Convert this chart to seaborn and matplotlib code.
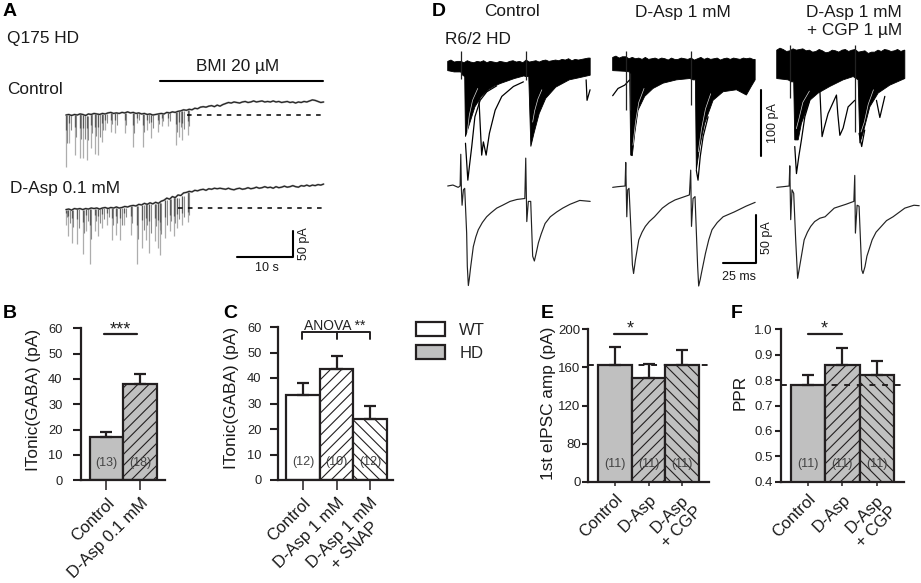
import numpy as np
import pandas as pd
import matplotlib
matplotlib.use("Agg")
import matplotlib.pyplot as plt
from matplotlib.patches import Patch
from matplotlib.transforms import ScaledTranslation, blended_transform_factory
import seaborn as sns

sns.set_style("white")
plt.rcParams['font.family'] = ['Liberation Sans', 'DejaVu Sans']
plt.rcParams['hatch.linewidth'] = 0.8

W, H = 921, 583
INK = '#231f20'
GREY = '#c0c0c0'
fig = plt.figure(figsize=(W / 100, H / 100), dpi=100)

# ---------- bar data ----------
b_cats = ['Control', 'D-Asp 0.1 mM']
b_vals = [17, 38]
b_errs = [2, 4]
b_ns = ['(13)', '(18)']
c_cats = ['Control', 'D-Asp 1 mM', 'D-Asp 1 mM\n+ SNAP']
c_vals = [33.5, 43.5, 23.8]
c_errs = [4.5, 5, 5.2]
c_ns = ['(12)', '(10)', '(12)']
e_cats = ['Control', 'D-Asp', 'D-Asp\n+ CGP']
e_vals = [163, 149, 162]
e_errs = [18, 15, 16]
e_ns = ['(11)', '(11)', '(11)']
f_vals = [0.78, 0.86, 0.82]
f_errs = [0.04, 0.065, 0.055]
f_ns = ['(11)', '(11)', '(11)']

# ---------- panel A traces: seconds (0.5 s sampling) and pA ----------
a_ctrl_base = [0, 1, -1, 1, 0, 2, 1, -1, 2, 1, 3, 2, 1, 3, 2, 4, 5, 3, 4, 3, 5, 4, 6, 4,
               5, 3, 4, 2, 3, 1, 2, 0, 1, 2, 3, 2, 5, 4, 6, 5, 7, 8, 10, 9, 11, 10, 13, 12,
               15, 16, 15, 17, 18, 16, 19, 17, 20, 22, 24, 23, 25, 24, 23, 25, 26, 24, 25, 27,
               25, 26, 27, 25, 26, 25, 27, 25, 26, 24, 25, 26, 24, 25, 23, 25, 24, 26, 25, 27,
               29, 28, 26, 24, 25]
a_asp_base = [-3, -2, -4, -1, -2, -1, -3, -1, -2, 0, -1, 0, -2, 0, 1, -1, 1, 0, 2, 0, 1, 3, 2, 4,
              5, 4, 7, 6, 9, 7, 10, 8, 11, 9, 13, 15, 19, 17, 22, 20, 25, 24, 29, 30, 32, 31, 34, 33,
              35, 36, 34, 37, 36, 38, 37, 38, 37, 36, 38, 36, 35, 37, 38, 36, 37, 39, 37, 38, 40, 38,
              39, 41, 39, 40, 38, 41, 39, 40, 42, 40, 41, 43, 41, 40, 43, 42, 44, 42, 44, 43, 45, 44, 46]
a_ctrl_t = [0.0, 0.6, 1.6, 2.5, 3.1, 3.7, 4.4, 5.1, 5.8, 6.4, 7.0, 8.0, 8.8, 10.5, 11.9, 12.7,
            13.7, 14.5, 15.2, 16.4, 17.1, 18.3, 19.6, 20.2, 20.8, 21.7]
a_ctrl_amp = [99, 54, 77, 83, 83, 86, 64, 74, 77, 51, 29, 32, 35, 35, 62, 16,
              61, 29, 45, 32, 22, 22, 58, 42, 48, 38]
a_asp_t = [0.0, 0.4, 1.0, 2.0, 3.0, 3.6, 4.3, 5.1, 5.8, 6.5, 7.4, 8.2, 8.9, 9.7, 10.4, 11.6,
           12.6, 13.6, 14.3, 14.9, 15.9, 16.5, 16.8, 17.7, 18.5, 19.2, 19.9, 20.8, 21.8]
a_asp_amp = [32, 54, 67, 70, 88, 45, 107, 45, 54, 38, 32, 61, 51, 61, 32, 51,
             107, 77, 61, 86, 64, 77, 90, 58, 45, 54, 38, 32, 26]
a_sample_step = 0.5
a_asp_offset = -178.6

# ---------- panel D sweeps: ms and pA ----------
d_upper_step = 2.5
d1_upper = [7, 9, 6, 7, 7, 5, 8, 6, 5, 7, 6, 8, 5, 7, 6, 5, 7, 6, 5, 7, 8, 6, 7, 5, 9, 6, 7, 8, 6, 8, 9, 7, 8, 9, 8, 10, 9, 11, 8, 10, 9, 10, 11, 12, 11]
d2_upper = [13, 15, 12, 14, 14, 11, 13, 11, 12, 10, 13, 10, 11, 12, 10, 12, 11, 9, 12, 10, 10, 12, 11, 10, 12, 9, 11, 13, 10, 12, 10, 11, 12, 9, 11, 12, 10, 12, 11, 10, 12, 11, 12, 10, 11]
d3_upper = [24, 27, 25, 22, 23, 26, 24, 25, 26, 23, 24, 21, 22, 25, 23, 20, 21, 24, 23, 21, 24, 25, 22, 24, 25, 21, 22, 23, 19, 21, 21, 24, 22, 25, 24, 22, 23, 25, 22, 24, 25, 23, 24, 22, 23]
d1_low_t = [0, 5, 10, 11.5, 13, 13.6, 16, 20.8, 25.8, 30.9, 36, 41, 51, 58.4, 59.5, 62, 63.6, 66, 70, 75, 82.7, 93, 100, 109]
d1_low = [-7, -9, -9, -14, -16, -107, -92, -62, -46, -36, -30, -26, -19, -15, -16, -16, -122, -102, -72, -49, -32, -21, -18, -14]
d2_low_t = [0, 9.2, 13, 13.8, 15, 16.9, 19.4, 24.5, 30.9, 38.6, 48.8, 59, 61.5, 63.3, 64, 66.6, 70.4, 76.8, 84.5, 94.7, 102.3, 106, 109]
d2_low = [-7, -8, -9, -135, -136, -102, -67, -46, -34, -26, -21, -19, -21, -21, -158, -122, -87, -52, -39, -36, -44, -31, -21]
d3_low_t = [0, 8.7, 11.3, 13, 13.8, 16.4, 18.9, 25.3, 31.7, 40.6, 50.8, 58.5, 62.3, 63.6, 66, 71.2, 77.6, 86.5, 98]
d3_low = [-19, -21, -24, -24, -112, -112, -87, -52, -41, -31, -21, -16, -21, -117, -102, -62, -41, -29, -19]

d1_out = [([13.6, 15.4, 16.6, 18.4, 20.8, 24.8, 29.9, 37.5], [-117, -173, -152, -122, -77, -52, -39, -30]),
          ([23.8, 24.8, 26, 27.3, 29.4, 31.9, 36.3, 41.4, 50.3, 57.9], [-46, -87, -135, -115, -135, -102, -67, -46, -31, -24]),
          ([105.9, 106.6, 108.9], [-21, -52, -36])]
d2_out = [([0, 4.1, 9.2, 13], [-45, -34, -29, -21]),
          ([64, 65.3, 67, 69.2, 73], [-158, -173, -137, -107, -77])]
d3_out = [([13.8, 15.1, 16.9, 18.9, 21.5, 25.3], [-122, -163, -137, -112, -77, -52]),
          ([33, 33.7, 34.7, 36.3, 39.3, 45.7, 46.7, 48.3, 50.8, 54.6, 59.7], [-36, -67, -107, -94, -72, -44, -72, -105, -94, -62, -52]),
          ([76.3, 78.9, 82.7], [-52, -78, -46]),
          ([63, 65, 67.3], [-102, -122, -97])]
d1_gap = [([15, 16.5, 19, 23], [-100, -75, -52, -34]), ([65, 66.5, 69, 72], [-85, -68, -50, -36])]
d2_gap = [([15.5, 17.5, 20, 24], [-120, -85, -55, -34]), ([65.5, 68, 71, 75], [-130, -95, -65, -42])]
d3_gap = [([15, 17, 20, 25], [-95, -80, -55, -38]), ([64.5, 67, 70, 74], [-100, -85, -58, -36])]
d1_art = [(10, 22, -19), (60, 22, -21)]
d2_art = [(10, 22, -67), (13.5, -10, -67), (59.7, 22, -59)]
d3_art = [(10, 32, -49), (60, 32, -100)]

d1_avg_t = [0, 4, 8, 9.5, 10, 10.5, 11, 12, 13, 14.5, 15, 15.8, 16.5, 17.5, 19.6, 21.5, 23.4, 26.5, 29.8, 33, 37.5, 42, 47.7, 53, 59, 59.7, 60.5, 61.7, 63.5, 65, 66.3, 67.5, 69.4, 71.5, 74.5, 78.5, 83.4, 88, 93.6, 101, 109]
d1_avg = [0, 1, -1.4, 0, 33, -4, -20, -4, -2.4, -49, -83.5, -103.5, -97, -85, -63, -53, -45.5, -38, -32, -28, -23, -20, -16, -14, -13, 29, -37, -16, -16, -73, -78, -71, -59, -50, -39, -32, -27, -23, -19, -15, -16]
d2_avg_t = [0, 4, 9.5, 10, 10.8, 11.5, 12.5, 14.1, 15.1, 16, 17.4, 20, 22.5, 25, 28, 32, 38, 43, 47.7, 53, 58.7, 59.7, 60.3, 61.5, 63, 65, 65.8, 67, 68, 71, 73.5, 76, 80, 84.5, 93, 102, 109]
d2_avg = [-1.4, -0.7, 0, 24.5, -32, -4, -2.4, -49, -82, -91, -77, -56, -48, -42, -37, -32, -23, -18, -14.5, -12, -9.3, 16.5, -42, -13, -11, -83.5, -104, -97, -90, -70, -56, -45.5, -38, -32, -27, -21, -17]
d3_avg_t = [0, 5, 9.5, 10, 10.7, 11.7, 13, 14.5, 16, 18, 21, 23.5, 26, 29, 33, 37, 44, 53, 59, 59.7, 60.2, 61.5, 63, 65, 66, 67.5, 69, 73, 76, 80, 84, 89, 98, 105, 109]
d3_avg = [-1.4, -0.7, 0, 21, -35, -4, -7.6, -56, -96, -80, -56, -48, -42, -37, -33.5, -32, -23, -19, -16, 11, -49, -20, -21, -87, -91, -84, -73, -56, -48, -42, -36, -32, -23, -20, -20.5]
d_offsets = [0, 126.2, 251.7]


def px_axes(l, t, r, b):
    ax = fig.add_axes([l / W, 1 - b / H, (r - l) / W, (b - t) / H])
    ax.patch.set_alpha(0)
    return ax


def T(x, y, s, size=12.4, **kw):
    kw.setdefault('ha', 'left')
    kw.setdefault('va', 'center')
    kw.setdefault('color', '#1a1a1a')
    fig.text(x / W, 1 - y / H, s, fontsize=size, **kw)


def line(ax, x, y, color='black', lw=1.0, **kw):
    sns.lineplot(x=np.asarray(x, float), y=np.asarray(y, float), ax=ax, color=color, lw=lw,
                 estimator=None, sort=False, errorbar=None, legend=False, **kw)


# ---------- panel A ----------
axA = px_axes(60, 70, 335, 290)
axA.set_xlim((60 - 66) / 5.6, (335 - 66) / 5.6)
axA.set_ylim((115 - 290) * 1.92, (115 - 70) * 1.92)
axA.axis('off')
ta = np.arange(len(a_ctrl_base)) * a_sample_step
for base, st, amp, off in [(a_ctrl_base, a_ctrl_t, a_ctrl_amp, 0),
                           (a_asp_base, a_asp_t, a_asp_amp, a_asp_offset)]:
    base = np.asarray(base, float)
    st = np.asarray(st)
    amp = np.asarray(amp, float)
    tops = base[(st / a_sample_step).astype(int)] + off
    axA.vlines(st, tops, off - amp, color='#adadad', lw=0.9)
    axA.vlines(st + 0.25, tops, off - amp * 0.55, color='#8a8a8a', lw=0.8)
    axA.vlines(st, tops, off - amp * 0.3, color='#5a5a5a', lw=0.9)
    line(axA, ta, base + off, color='#9a9a9a', lw=1.4)
    line(axA, ta, base + off, color='#222222', lw=0.8)
axA.plot([21.6, 45.7], [0, 0], color='black', lw=1.1, ls=(0, (3, 3.5)))
axA.plot([20, 45.7], [a_asp_offset, a_asp_offset], color='black', lw=1.1, ls=(0, (3, 3.5)))
axA.plot([16.8, 45.9], [65, 65], color='black', lw=1.5)
axA.plot([30.5, 40.5, 40.5], [-272.7, -272.7, -222.7], color='black', lw=1.5)

# ---------- panel D ----------
axD = px_axes(440, 40, 921, 185)
axD.set_xlim((440 - 447.7) * 0.765, (921 - 447.7) * 0.765)
axD.set_ylim((66 - 185) * 1.515, (66 - 40) * 1.515)
axD.axis('off')
axL = px_axes(440, 150, 921, 300)
axL.set_xlim((440 - 447.7) * 0.765, (921 - 447.7) * 0.765)
axL.set_ylim((186 - 300) * 1.04, (186 - 150) * 1.04)
axL.axis('off')
sweeps = [(d1_upper, d1_low_t, d1_low, d1_out, d1_gap, d1_art, d1_avg_t, d1_avg),
          (d2_upper, d2_low_t, d2_low, d2_out, d2_gap, d2_art, d2_avg_t, d2_avg),
          (d3_upper, d3_low_t, d3_low, d3_out, d3_gap, d3_art, d3_avg_t, d3_avg)]
for off, (up, lt, lw_, outs, gaps, arts, at, av) in zip(d_offsets, sweeps):
    ut = np.arange(len(up)) * d_upper_step
    lt = np.asarray(lt, float)
    keep = ut <= lt[-1]
    axD.fill(np.r_[ut[keep], lt[-1], lt[::-1]] + off,
             np.r_[np.asarray(up, float)[keep], np.asarray(up, float)[keep][-1], np.asarray(lw_, float)[::-1]],
             color='black', lw=0.6)
    for ot, oy in outs:
        line(axD, np.asarray(ot) + off, oy, color='black', lw=0.9)
    for ot, oy in gaps:
        line(axD, np.asarray(ot) + off, oy, color='#d8d8d8', lw=0.5)
    for tp, y1, y2 in arts:
        axD.vlines(tp + off, y2, y1, color='#222222', lw=0.9)
    line(axL, np.asarray(at, float) + off, av, color='#222222', lw=0.85)
axD.plot([239.7, 239.7], [-36, -136], color='black', lw=1.5)
axL.plot([210.8, 235.8, 235.8], [-80, -80, -30], color='black', lw=1.5)


# ---------- bar panels ----------
def bar_panel(l, t, r, b, c0, w, cats, vals, errs, ns, fills, hatches, ylim, yticks, ylabels,
              ylabel, ylab_x, ylab_y, dx, dy, ypad, ylen, ysize, n_y=0.115, ticklen=7, dashed=None):
    ax = px_axes(l, t, r, b)
    df = pd.DataFrame({'cat': cats, 'val': vals})
    sns.barplot(data=df, x='cat', y='val', hue='cat', palette=fills, width=1.0, ax=ax,
                edgecolor=INK, linewidth=1.6, legend=False, saturation=1, errorbar=None)
    for p, h in zip(ax.patches, hatches):
        if h:
            p.set_hatch(h)
    xs = np.arange(len(cats))
    ax.errorbar(xs, vals, yerr=[np.zeros(len(vals)), errs], fmt='none', ecolor=INK,
                elinewidth=1.6, capsize=4.3, capthick=1.6, zorder=1.5)
    ax.set_xlim((l - c0) / w, (r - c0) / w)
    ax.set_ylim(*ylim)
    ax.set_yticks(yticks)
    ax.set_yticklabels(ylabels)
    ax.set_xticks(xs)
    ax.set_xticklabels(cats, rotation=45, ha='right', va='top', rotation_mode='anchor',
                       multialignment='center', fontsize=12, color='#1a1a1a')
    shift = ScaledTranslation(dx / 100, dy / 100, fig.dpi_scale_trans)
    for lab in ax.get_xticklabels():
        lab.set_transform(lab.get_transform() + shift)
    ax.tick_params(axis='y', length=ylen, width=1.5, labelsize=ysize, pad=ypad, color=INK, labelcolor='#222222', left=True)
    ax.tick_params(axis='x', length=ticklen, width=1.1, pad=4, color=INK, bottom=True)
    for s in ('top', 'right'):
        ax.spines[s].set_visible(False)
    for s in ('left', 'bottom'):
        ax.spines[s].set_linewidth(1.6)
        ax.spines[s].set_color(INK)
    ax.set_xlabel('')
    ax.set_ylabel(ylabel, fontsize=12.4, color='#1a1a1a')
    ax.yaxis.set_label_coords((ylab_x - l) / (r - l), (b - ylab_y) / (b - t))
    tr = blended_transform_factory(ax.transData, ax.transAxes)
    for x, n in zip(xs, ns):
        ax.text(x, n_y, n, transform=tr, ha='center', va='center', fontsize=9, color='#444444')
    if dashed is not None:
        ax.axhline(dashed, color=INK, lw=1.4, ls=(0, (3, 3.5)), zorder=5)
    return ax


hD = {'c': '///', 'b': '\\\\\\'}
axB = bar_panel(81, 328.3, 165, 480.3, 106.4, 33.8, b_cats, b_vals, b_errs, b_ns,
                [GREY, GREY], [None, hD['c']], (0, 60), [0, 10, 20, 30, 40, 50, 60],
                ['0', '10', '20', '30', '40', '50', '60'], 'ITonic(GABA) (pA)', 41, 400, 28, 0,
                ypad=7.5, ylen=5.8, ysize=9.3)
axB.plot([-0.07, 0.9], [57.6, 57.6], color=INK, lw=1.6, clip_on=False)
axB.text(0.42, 59.2, '***', ha='center', va='center', fontsize=13, color='#222222')

axC = bar_panel(278, 327, 393, 480, 303, 33.6, c_cats, c_vals, c_errs, c_ns,
                ['white', 'white', 'white'], [None, hD['c'], hD['b']], (0, 60), [0, 10, 20, 30, 40, 50, 60],
                ['0', '10', '20', '30', '40', '50', '60'], 'ITonic(GABA) (pA)', 239, 398, 16, 0,
                ypad=6, ylen=5.8, ysize=9.3)
axC.plot([-0.04, -0.04, 1.98, 1.98], [55.2, 57.9, 57.9, 55.2], color=INK, lw=1.4, clip_on=False)
axC.plot([1, 1], [55.2, 57.9], color=INK, lw=1.4)
axC.text(0.93, 60.2, 'ANOVA **', ha='center', va='center', fontsize=10, color='#222222')

axE = bar_panel(588, 329.3, 709, 481.7, 614.7, 33.8, e_cats, e_vals, e_errs, e_ns,
                [GREY, GREY, GREY], [None, hD['c'], hD['b']], (40, 200), [40, 80, 120, 160, 200],
                ['0', '80', '120', '160', '200'], '1st eIPSC amp (pA)', 556, 403, 19, 2,
                ypad=1, ylen=4.3, ysize=9.5, n_y=0.115, ticklen=3, dashed=163)
axE.plot([-0.03, 0.97], [194.8, 194.8], color=INK, lw=1.6)
axE.text(0.47, 200, '*', ha='center', va='center', fontsize=13, color='#222222', clip_on=False)

axF = bar_panel(781, 329.3, 904, 481.7, 808, 34.4, e_cats, f_vals, f_errs, f_ns,
                [GREY, GREY, GREY], [None, hD['c'], hD['b']], (0.4, 1.0), [0.4, 0.5, 0.6, 0.7, 0.8, 0.9, 1.0],
                ['0.4', '0.5', '0.6', '0.7', '0.8', '0.9', '1.0'], 'PPR', 748, 392, 18, 2,
                ypad=1.5, ylen=4.3, ysize=9.5, n_y=0.115, ticklen=3, dashed=0.78)
axF.plot([0, 1], [0.98, 0.98], color=INK, lw=1.6)
axF.text(0.46, 1.003, '*', ha='center', va='center', fontsize=13, color='#222222', clip_on=False)

# ---------- legend ----------
leg_handles = [Patch(facecolor='white', edgecolor=INK, lw=1.6, label='WT'),
               Patch(facecolor=GREY, edgecolor=INK, lw=1.6, label='HD')]
fig.legend(handles=leg_handles, loc='upper left', bbox_to_anchor=(416 / W, 1 - 321.7 / H), frameon=False,
           fontsize=12, borderpad=0, borderaxespad=0, handlelength=1.76, handleheight=0.93,
           labelspacing=0.46, handletextpad=0.84)

# ---------- free text ----------
for x, y, s in [(3, 11, 'A'), (3, 313, 'B'), (223, 313, 'C'), (432, 11, 'D'), (541, 313, 'E'), (731, 313, 'F')]:
    T(x, y, s, size=14, fontweight='bold', color='black')
T(7, 39, 'Q175 HD')
T(7, 89, 'Control')
T(10, 189, 'D-Asp 0.1 mM')
T(238, 66, 'BMI 20 µM', ha='center')
T(267, 268, '10 s', size=9, ha='center')
T(304, 244, '50 pA', size=9, ha='center', rotation=90)
T(512, 12, 'Control', ha='center')
T(683, 12, 'D-Asp 1 mM', ha='center')
T(902, 12, 'D-Asp 1 mM', ha='right')
T(902, 31, '+ CGP 1 µM', ha='right')
T(445, 40, 'R6/2 HD')
T(772.7, 123, '100 pA', size=9, ha='center', rotation=90)
T(767, 238, '50 pA', size=9, ha='center', rotation=90)
T(739, 277, '25 ms', size=9, ha='center')

fig.savefig('out.png', dpi=100, facecolor='white')
